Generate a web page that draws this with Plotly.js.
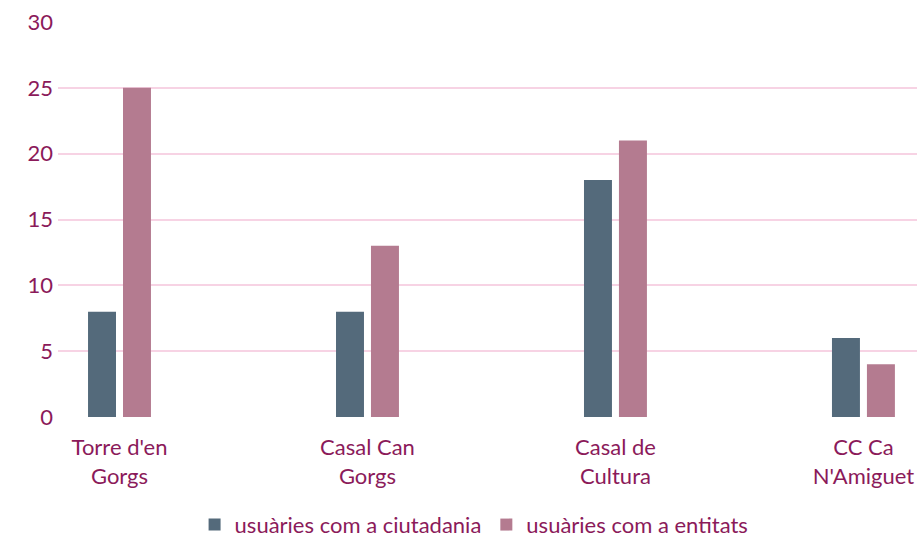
<!DOCTYPE html>
<html>
<head>
<meta charset="utf-8">
<script src="https://cdn.plot.ly/plotly-3.0.1.min.js"></script>
<style>html,body{margin:0;padding:0;background:#fff;}#chart{width:917px;height:541px;}</style>
</head>
<body>
<div id="chart"></div>
<script>
var categories = ["Torre d'en<br>Gorgs", "Casal Can<br>Gorgs", "Casal de<br>Cultura", "CC Ca<br>N'Amiguet"];
var ciutadania = [8, 8, 18, 6];
var entitats = [25, 13, 21, 4];
var seriesNames = ["usuàries com a ciutadania", "usuàries com a entitats"];
var tickVals = [0, 5, 10, 15, 20, 25, 30];

var textColor = "#8B1A5A";
var font = {family: "Lato, 'Open Sans', sans-serif", size: 22, color: textColor};

var traces = [
  {type: "bar", x: categories, y: ciutadania, name: seriesNames[0],
   marker: {color: "#546A7B"}},
  {type: "bar", x: categories, y: entitats, name: seriesNames[1],
   marker: {color: "#B47B90"}}
];

var layout = {
  width: 917, height: 541,
  margin: {l: 58, r: 0, t: 22, b: 124},
  paper_bgcolor: "#fff", plot_bgcolor: "#fff",
  font: font,
  barmode: "group",
  bargap: 0.718,
  bargroupgap: 0.2,
  xaxis: {range: [-0.248, 3.216], showgrid: false, showline: false, zeroline: false,
          ticks: "", tickfont: font, ticklabelstandoff: 15, automargin: false},
  yaxis: {range: [0, 30], tickvals: tickVals, showgrid: true, gridcolor: "#F7D3E4", gridwidth: 2,
          zeroline: false, showline: false, ticks: "", tickfont: font, ticklabelstandoff: 4, automargin: false},
  showlegend: true,
  legend: {orientation: "h", xref: "container", yref: "container", x: 0.517, xanchor: "center",
           y: 0.03, yanchor: "middle", font: font, itemwidth: 30, tracegroupgap: 0},
};

Plotly.newPlot("chart", traces, layout, {displayModeBar: false, staticPlot: true});
</script>
</body>
</html>
